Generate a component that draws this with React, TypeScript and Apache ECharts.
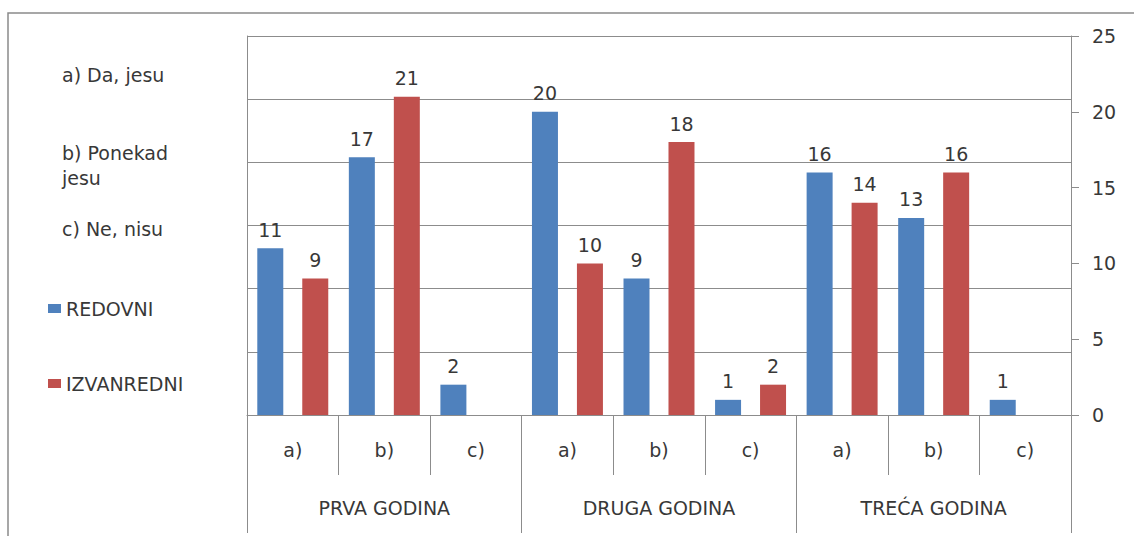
import React, { useEffect, useRef } from "react";
import * as echarts from "echarts";

const subCategories = ["a)", "b)", "c)", "a)", "b)", "c)", "a)", "b)", "c)"];
const groupCategories = ["PRVA GODINA", "DRUGA GODINA", "TREĆA GODINA"];
const redovni = [11, 17, 2, 20, 9, 1, 16, 13, 1];
const izvanredni: (number | null)[] = [9, 21, null, 10, 18, 2, 14, 16, null];
const yTicks = [0, 5, 10, 15, 20, 25];
const answerLines = ["a) Da, jesu", "b) Ponekad", "jesu", "c) Ne, nisu"];
const answerLineY = [75, 153, 178, 229];

const FONT = "'DejaVu Sans', 'Open Sans', sans-serif";
const FS = 19;
const TEXT = "#383838";
const LINE = "#8c8c8c";

export default function App() {
  const ref = useRef<HTMLDivElement>(null);
  useEffect(() => {
    if (!ref.current) return;
    const chart = echarts.init(ref.current, null, { renderer: "svg" });
    const subIds = subCategories.map((c, i) => c + "#" + i);
    chart.setOption({
      animation: false,
      textStyle: { fontFamily: FONT, color: TEXT },
      grid: { left: 247, right: 63, top: 36, bottom: 121 },
      legend: {
        orient: "vertical",
        left: 43,
        top: 294,
        itemGap: 56,
        itemWidth: 13,
        itemHeight: 9,
        icon: "rect",
        textStyle: { fontSize: FS, color: TEXT, fontFamily: FONT, padding: [0, 0, 0, 0] },
        data: ["REDOVNI", "IZVANREDNI"],
      },
      graphic: [
        {
          type: "rect",
          shape: { x: 8, y: 13, width: 1140, height: 540 },
          style: { fill: "none", stroke: "#8a8a8a", lineWidth: 1.5 },
          silent: true,
        },
        ...answerLines.map((t, i) => ({
          type: "text",
          x: 62,
          y: answerLineY[i],
          style: { text: t, fontSize: FS, fill: TEXT, fontFamily: FONT, verticalAlign: "middle" },
        })),
      ],
      xAxis: [
        {
          type: "category",
          data: subIds,
          position: "bottom",
          axisLine: { show: true, lineStyle: { color: LINE } },
          axisTick: { show: true, length: 60, lineStyle: { color: LINE } },
          axisLabel: {
            margin: 25,
            fontSize: FS,
            color: TEXT,
            fontFamily: FONT,
            interval: 0,
            formatter: (v: string) => v.split("#")[0],
          },
          splitLine: { show: false },
        },
        {
          type: "category",
          data: groupCategories,
          position: "bottom",
          axisLine: { show: false },
          axisTick: { show: true, length: 118, lineStyle: { color: LINE } },
          axisLabel: { margin: 83, fontSize: FS, color: TEXT, fontFamily: FONT, interval: 0 },
          splitLine: { show: false },
        },
      ],
      yAxis: [
        {
          type: "value",
          position: "left",
          min: 0,
          max: 6,
          interval: 1,
          axisLine: { show: true, lineStyle: { color: LINE } },
          axisTick: { show: false },
          axisLabel: { show: false },
          splitLine: { show: true, lineStyle: { color: LINE, width: 1 } },
        },
        {
          type: "value",
          position: "right",
          min: yTicks[0],
          max: yTicks[yTicks.length - 1],
          interval: 5,
          axisLine: { show: true, lineStyle: { color: LINE } },
          axisTick: { show: true, length: 8, inside: false, lineStyle: { color: LINE } },
          axisLabel: { margin: 21, fontSize: FS, color: TEXT, fontFamily: FONT },
          splitLine: { show: false },
        },
      ],
      series: [
        {
          name: "REDOVNI",
          type: "bar",
          xAxisIndex: 0,
          yAxisIndex: 1,
          data: redovni,
          barWidth: 26,
          barGap: "73%",
          itemStyle: { color: "#4F81BD" },
          label: { show: true, position: "top", distance: 9, fontSize: FS, color: TEXT, fontFamily: FONT },
        },
        {
          name: "IZVANREDNI",
          type: "bar",
          xAxisIndex: 0,
          yAxisIndex: 1,
          data: izvanredni,
          barWidth: 26,
          barGap: "73%",
          itemStyle: { color: "#C0504D" },
          label: { show: true, position: "top", distance: 9, fontSize: FS, color: TEXT, fontFamily: FONT },
        },
      ],
    });
    return () => chart.dispose();
  }, []);
  return (
    <div
      ref={ref}
      style={{ position: "fixed", left: 0, top: 0, width: 1134, height: 536, background: "#fff" }}
    />
  );
}
